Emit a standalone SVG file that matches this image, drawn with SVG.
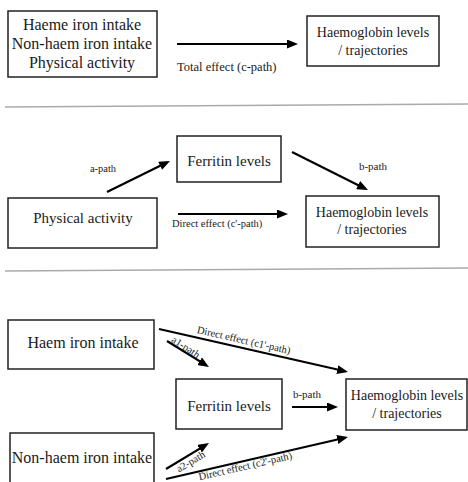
<svg xmlns="http://www.w3.org/2000/svg" width="468" height="482" viewBox="0 0 468 482">
<style>
.box{fill:#fff;stroke:#222;stroke-width:1.5}
.t{font-family:"Liberation Serif","Times New Roman",serif;fill:#1a1a1a;text-anchor:middle}
.lbl{font-family:"Liberation Serif","Times New Roman",serif;fill:#1a1a1a}
.arr{stroke:#000;stroke-width:2.2;fill:none;marker-end:url(#ah)}
.sep{stroke:#aaa;stroke-width:1.5}
</style>
<defs>
<marker id="ah" markerUnits="userSpaceOnUse" viewBox="0 0 11 9" markerWidth="11" markerHeight="9" refX="8" refY="4.5" orient="auto">
<path d="M0,0 L11,4.5 L0,9 z" fill="#000"/>
</marker>
</defs>

<g id="separators">
<line class="sep" x1="5" y1="107" x2="468" y2="104"/>
<line class="sep" x1="5" y1="271" x2="468" y2="268"/>
</g>

<!-- Section 1 -->
<g id="top-exposures">
<rect class="box" x="8" y="11" width="149" height="66"/>
<text class="t" x="82" y="30" font-size="16">Haeme iron intake</text>
<text class="t" x="82" y="49" font-size="16">Non-haem iron intake</text>
<text class="t" x="82" y="68" font-size="16">Physical activity</text>
</g>
<g id="top-haemoglobin">
<rect class="box" x="307" y="16" width="132" height="50"/>
<text class="t" x="373" y="37" font-size="14">Haemoglobin levels</text>
<text class="t" x="373" y="55" font-size="14">/ trajectories</text>
</g>

<!-- Section 2 -->
<g id="mid-ferritin">
<rect class="box" x="177" y="136" width="104" height="46"/>
<text class="t" x="229" y="166" font-size="15">Ferritin levels</text>
</g>
<g id="mid-physical">
<rect class="box" x="8" y="198" width="149" height="50"/>
<text class="t" x="83" y="223" font-size="15">Physical activity</text>
</g>
<g id="mid-haemoglobin">
<rect class="box" x="306" y="196" width="133" height="51"/>
<text class="t" x="372" y="217" font-size="14">Haemoglobin levels</text>
<text class="t" x="372" y="234" font-size="14">/ trajectories</text>
</g>

<!-- Section 3 -->
<g id="bot-haem">
<rect class="box" x="8" y="320" width="146" height="49"/>
<text class="t" x="83" y="348" font-size="16">Haem iron intake</text>
</g>
<g id="bot-ferritin">
<rect class="box" x="176" y="379" width="106" height="50"/>
<text class="t" x="229" y="411" font-size="15">Ferritin levels</text>
</g>
<g id="bot-haemoglobin">
<rect class="box" x="346" y="379" width="121" height="51"/>
<text class="t" x="407" y="400" font-size="14">Haemoglobin levels</text>
<text class="t" x="407" y="418" font-size="14">/ trajectories</text>
</g>
<g id="bot-nonhaem">
<rect class="box" x="10" y="433" width="144" height="60"/>
<text class="t" x="82" y="463" font-size="16">Non-haem iron intake</text>
</g>

<g id="connectors">
<line class="arr" x1="177" y1="44" x2="295" y2="44"/>
<text class="lbl" x="177" y="71" font-size="12.5">Total effect (c-path)</text>

<line class="arr" x1="107" y1="192" x2="167.3" y2="162.3"/>
<text class="lbl" x="103" y="172" font-size="10.5" text-anchor="middle">a-path</text>
<line class="arr" x1="292" y1="152" x2="365.3" y2="188.7"/>
<text class="lbl" x="373" y="170" font-size="11" text-anchor="middle">b-path</text>
<line class="arr" x1="178" y1="214" x2="285" y2="214"/>
<text class="lbl" x="172" y="227" font-size="10.5">Direct effect (c'-path)</text>

<line class="arr" x1="159" y1="329" x2="345.1" y2="371.3"/>
<text class="lbl" font-size="10.5" text-anchor="middle" transform="translate(243,343.5) rotate(12.8)">Direct effect (c1'-path)</text>
<line class="arr" x1="167" y1="341" x2="206.4" y2="365.4"/>
<text class="lbl" font-size="10.5" text-anchor="middle" transform="translate(184,350) rotate(33)">a1-path</text>
<line class="arr" x1="292" y1="407" x2="335" y2="407"/>
<text class="lbl" x="307" y="398" font-size="11" text-anchor="middle">b-path</text>
<line class="arr" x1="166" y1="469" x2="206.4" y2="444.6"/>
<text class="lbl" font-size="10.5" text-anchor="middle" transform="translate(192.5,464.5) rotate(-31)">a2-path</text>
<line class="arr" x1="166" y1="479" x2="345.1" y2="437.7"/>
<text class="lbl" font-size="10.5" text-anchor="middle" transform="translate(246,469.5) rotate(-13)">Direct effect (c2'-path)</text>
</g>
</svg>
